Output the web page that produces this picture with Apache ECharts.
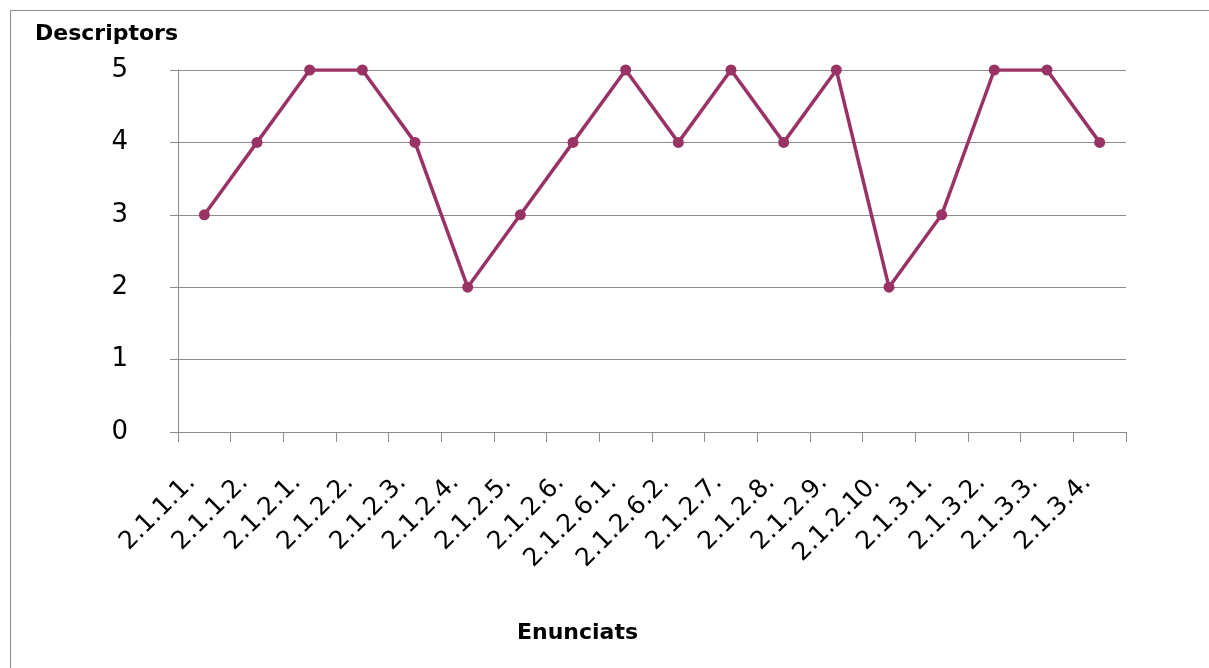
<!DOCTYPE html>
<html>
<head>
<meta charset="utf-8">
<script src="https://cdn.jsdelivr.net/npm/echarts@6/dist/echarts.min.js"></script>
<style>
html,body{margin:0;padding:0;background:#fff;}
#chart{width:1209px;height:668px;}
</style>
</head>
<body>
<div id="chart"></div>
<script>
const categories = ['2.1.1.1.','2.1.1.2.','2.1.2.1.','2.1.2.2.','2.1.2.3.','2.1.2.4.','2.1.2.5.','2.1.2.6.','2.1.2.6.1.','2.1.2.6.2.','2.1.2.7.','2.1.2.8.','2.1.2.9.','2.1.2.10.','2.1.3.1.','2.1.3.2.','2.1.3.3.','2.1.3.4.'];
const descriptors = [3,4,5,5,4,2,3,4,5,4,5,4,5,2,3,5,5,4];
const yTicks = [0,1,2,3,4,5];
const yAxisTitle = 'Descriptors';
const xAxisTitle = 'Enunciats';

const chart = echarts.init(document.getElementById('chart'), null, {renderer:'canvas'});
chart.setOption({
  backgroundColor:'#ffffff',
  animation:false,
  grid:{left:178,right:83,top:70,bottom:236,containLabel:false},
  graphic:[
    {type:'rect',shape:{x:10.5,y:10.5,width:1220,height:680},style:{fill:'none',stroke:'#8c8c8c',lineWidth:1},silent:true,z:-1},
    {type:'text',left:35,top:23,style:{text:yAxisTitle,font:'bold 22px "DejaVu Sans"',fill:'#000'}},
    {type:'text',left:517,top:622,style:{text:xAxisTitle,font:'bold 22px "DejaVu Sans"',fill:'#000'}}
  ],
  xAxis:{
    type:'category',
    data:categories,
    boundaryGap:true,
    axisLine:{lineStyle:{color:'#8c8c8c',width:1}},
    axisTick:{show:true,length:10,alignWithLabel:false,lineStyle:{color:'#8c8c8c'}},
    axisLabel:{rotate:45,margin:34,interval:0,padding:[0,18,0,0],fontFamily:'DejaVu Sans',fontSize:25,color:'#000'},
    splitLine:{show:false}
  },
  yAxis:{
    type:'value',
    min:yTicks[0],max:yTicks[yTicks.length-1],interval:1,
    axisLine:{show:true,lineStyle:{color:'#8c8c8c',width:1}},
    axisTick:{show:true,length:8,inside:false,lineStyle:{color:'#8c8c8c'}},
    axisLabel:{margin:50,fontFamily:'DejaVu Sans',fontSize:26,color:'#000',padding:[4,0,0,0]},
    splitLine:{show:true,lineStyle:{color:'#8c8c8c',width:1}}
  },
  series:[{
    type:'line',
    data:descriptors,
    symbol:'circle',
    symbolSize:11,
    lineStyle:{color:'#993366',width:3.5},
    itemStyle:{color:'#993366'}
  }]
});
</script>
</body>
</html>
